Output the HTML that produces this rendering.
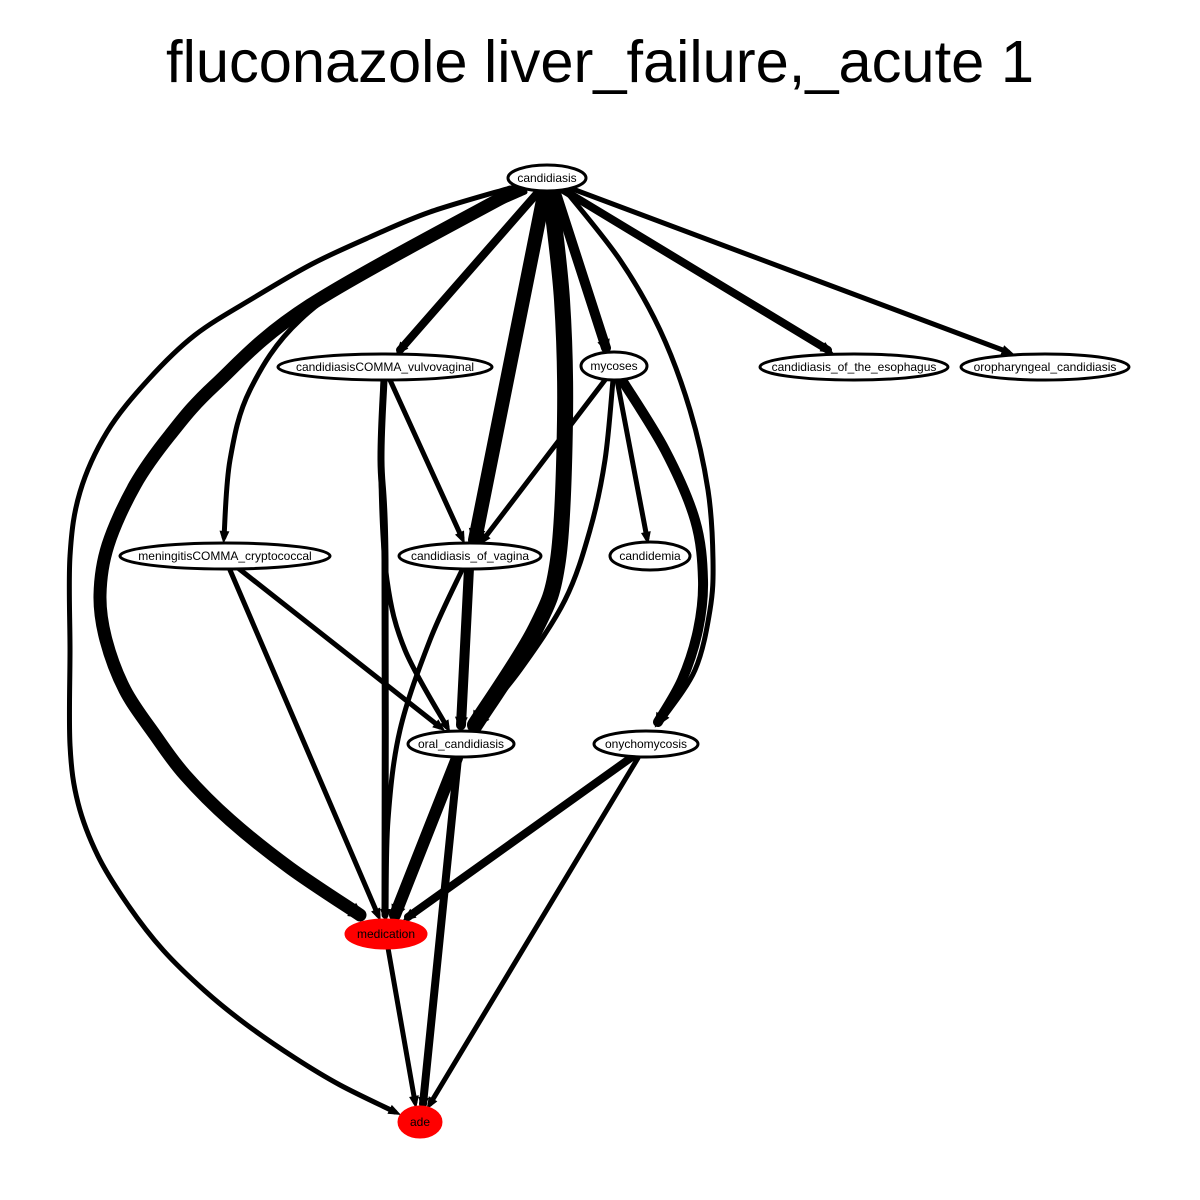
<!DOCTYPE html>
<html><head><meta charset="utf-8"><style>
body{margin:0;background:#fff}
svg{display:block}
text{font-family:"Liberation Sans",sans-serif}
</style></head><body>
<svg id="g" width="1200" height="1200" viewBox="0 0 1200 1200">
<rect width="1200" height="1200" fill="#fff"/>
<text x="600" y="82" font-size="59.6" text-anchor="middle">fluconazole liver_failure,_acute 1</text>
<g id="edges"></g><g id="nodes"></g>
</svg>
<script>
const nodeNames=["candidiasis","candidiasisCOMMA_vulvovaginal","mycoses","candidiasis_of_the_esophagus","oropharyngeal_candidiasis","meningitisCOMMA_cryptococcal","candidiasis_of_vagina","candidemia","oral_candidiasis","onychomycosis","medication","ade"];
const nodeX=[547,385,614,854,1045,225,470,650,461,646,386,420];
const nodeY=[178,367,366,367,367,556,556,556,744,744,934,1122];
const nodeRX=[39,107,33,94,84,105,71,40,53,52,40,21];
const nodeRY=[13,13,14,13,13,13,13,14,13,13,14,15];
const nodeRed=[0,0,0,0,0,0,0,0,0,0,1,1];
const edgeWidths=[8,10,8,5,14,16,5,13,5,5,5,5,5,10,5,7,5,5,5,10,5,12,8,8,5,5];
const edgePaths=[
[[540,190],[400,350]],
[[555,190],[606,348]],
[[560,188],[828,350]],
[[570,188],[1008,352]],
[[545,190],[475,540]],
[[550,190],[562,300],[565,420],[558,560],[535,630],[475,725]],
[[525,192],[400,250],[300,320],[250,390],[230,460],[224,537]],
[[520,188],[310,305],[215,385],[170,435],[135,485],[108,545],[100,595],[106,640],[125,690],[155,735],[185,775],[230,820],[290,868],[360,915]],
[[510,188],[430,212],[370,237],[312,264],[255,297],[195,335],[148,380],[107,432],[80,492],[70,556],[70,650],[70,745],[78,803],[98,856],[128,905],[163,950],[205,991],[247,1025],[295,1058],[340,1085],[395,1112]],
[[565,190],[620,260],[660,330],[690,410],[708,490],[713,560],[710,610],[695,670],[662,720]],
[[605,380],[483,540]],
[[617,380],[647,538]],
[[613,380],[605,460],[590,530],[565,600],[520,670],[475,725]],
[[622,380],[665,450],[695,520],[703,580],[698,630],[682,680],[658,722]],
[[390,380],[462,538]],
[[384,380],[381,460],[385,560],[385,915]],
[[383,380],[381,480],[387,580],[405,650],[447,727]],
[[238,568],[440,727]],
[[230,570],[378,915]],
[[469,568],[461,725]],
[[463,568],[430,640],[400,730],[388,820],[386,915]],
[[457,758],[395,915]],
[[458,758],[423,1104]],
[[632,757],[408,917]],
[[638,758],[430,1104]],
[[388,948],[415,1102]]];
const NS="http://www.w3.org/2000/svg";
const eg=document.getElementById('edges'),ng=document.getElementById('nodes');
function smooth(pts){
  let d='M'+pts[0].join(',');
  for(let i=0;i<pts.length-1;i++){
    const p0=pts[i-1]||pts[i],p1=pts[i],p2=pts[i+1],p3=pts[i+2]||p2;
    const c1=[p1[0]+(p2[0]-p0[0])/6,p1[1]+(p2[1]-p0[1])/6];
    const c2=[p2[0]-(p3[0]-p1[0])/6,p2[1]-(p3[1]-p1[1])/6];
    d+=' C'+c1.join(',')+' '+c2.join(',')+' '+p2.join(',');
  }
  return d;
}
edgePaths.forEach((pts,i)=>{
  const w=edgeWidths[i];
  const p=document.createElementNS(NS,'path');
  
  
  p.setAttribute('d',smooth(pts));
  p.setAttribute('fill','none');p.setAttribute('stroke','#000');
  p.setAttribute('stroke-width',w);p.setAttribute('stroke-linejoin','round');p.setAttribute('stroke-linecap','round');
  eg.appendChild(p);
  const a=pts[pts.length-2],b=pts[pts.length-1];
  const dx=b[0]-a[0],dy=b[1]-a[1],L=Math.hypot(dx,dy),ux=dx/L,uy=dy/L;
  const s=Math.max(5,w*0.7),bx=b[0]+ux*4,by=b[1]+uy*4;
  const h=document.createElementNS(NS,'polygon');
  
  
  h.setAttribute('points',[[bx,by],[b[0]-ux*s-uy*s*0.7,b[1]-uy*s+ux*s*0.7],[b[0]-ux*s+uy*s*0.7,b[1]-uy*s-ux*s*0.7]].map(q=>q.join(',')).join(' '));
  h.setAttribute('stroke','#000');h.setAttribute('stroke-width',2);
  eg.appendChild(h);
});
nodeNames.forEach((n,i)=>{
  const e=document.createElementNS(NS,'ellipse');
  
  
  e.setAttribute('cx',nodeX[i]);e.setAttribute('cy',nodeY[i]);
  e.setAttribute('rx',nodeRX[i]);e.setAttribute('ry',nodeRY[i]);
  e.setAttribute('fill',nodeRed[i]?'#f00':'#fff');
  e.setAttribute('stroke',nodeRed[i]?'#f00':'#000');e.setAttribute('stroke-width',3);
  ng.appendChild(e);
  const t=document.createElementNS(NS,'text');
  
  
  t.setAttribute('x',nodeX[i]);t.setAttribute('y',nodeY[i]+4);
  t.setAttribute('font-size',12);t.setAttribute('text-anchor','middle');
  t.textContent=n;
  ng.appendChild(t);
});
</script>
</body></html>
